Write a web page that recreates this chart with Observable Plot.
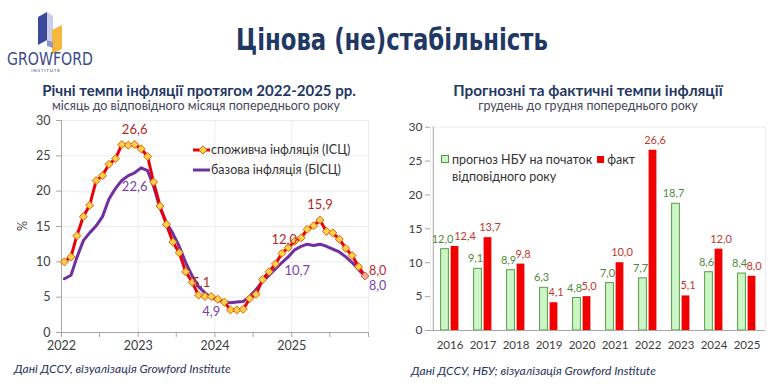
<!DOCTYPE html>
<html><head><meta charset="utf-8">
<script src="https://cdn.jsdelivr.net/npm/d3@7"></script>
<script src="https://cdn.jsdelivr.net/npm/@observablehq/plot@0.6"></script>
<style>
body{margin:0;background:#fff;}
#wrap{position:relative;width:780px;height:386px;overflow:hidden;background:#fff;font-family:Lato,"Open Sans",sans-serif;}
.abs{position:absolute;white-space:nowrap;}
.ctr{text-align:center;}
#leftChart,#rightChart{position:absolute;}
#leftChart{left:0;top:112px;}
#rightChart{left:395px;top:112px;}
</style></head><body><div id="wrap">
<svg class="abs" style="left:0;top:0" width="100" height="80">
  <polygon points="38,17 47,12 47,40 38,45" fill="#3d4a9c"/>
  <polygon points="47,12 53,16 53,42 47,40" fill="#c9cde8"/>
  <polygon points="52,30 62,25 62,49 52,54" fill="#f6b83c"/>
  <polygon points="47,40 53,42 53,48 47,46" fill="#8f97c9"/>
  <text x="50" y="65" text-anchor="middle" font-family="'Liberation Sans Narrow','DejaVu Sans Condensed',sans-serif" font-size="17" fill="#3c4a8c" textLength="86" lengthAdjust="spacingAndGlyphs">GROWFORD</text>
  <text x="46" y="72" text-anchor="middle" font-family="Lato,sans-serif" font-size="4.5" fill="#3c4a8c" letter-spacing="0.8">INSTITUTE</text>
</svg>
<div class="abs ctr" id="title" style="left:0;width:784px;top:22px;font:bold 30px 'Liberation Sans Narrow','DejaVu Sans Condensed',Roboto,sans-serif;color:#1f3864;line-height:36px;transform:scaleX(0.845);transform-origin:392px 0;">Цінова (не)стабільність</div>
<div class="abs ctr" id="lt1" style="left:0;width:398px;top:82px;font:bold 15px Lato,sans-serif;color:#1f3864;line-height:16px;">Річні темпи інфляції протягом 2022-2025 рр.</div>
<div class="abs ctr" id="lt2" style="left:0;width:392px;top:100px;font:12.5px Lato,sans-serif;color:#44475a;line-height:12px;">місяць до відповідного місяця попереднього року</div>
<div class="abs ctr" id="rt1" style="left:388px;width:400px;top:82px;font:bold 15.3px Lato,sans-serif;color:#1f3864;line-height:16px;">Прогнозні та фактичні темпи інфляції</div>
<div class="abs ctr" id="rt2" style="left:388px;width:400px;top:100px;font:12.5px Lato,sans-serif;color:#44475a;line-height:12px;">грудень до грудня попереднього року</div>
<div class="abs" id="pct" style="left:15px;top:219px;width:14px;height:14px;line-height:14px;text-align:center;font:12.5px Lato,sans-serif;color:#404040;transform:rotate(-90deg);">%</div>
<div id="leftChart"></div>
<div id="rightChart"></div>
<div class="abs" id="legL" style="left:192px;top:140px;font:12.5px Lato,sans-serif;color:#333;line-height:20px;">
  <div><svg width="19" height="10" style="vertical-align:-1px"><line x1="1" y1="5" x2="18" y2="5" stroke="#e8000b" stroke-width="3"/><path d="M11,1 L15,5 L11,9 L7,5Z" fill="#ffd24a" stroke="#e2600a" stroke-width="1"/></svg><span id="legL1"></span></div>
  <div><svg width="19" height="10" style="vertical-align:-1px"><line x1="1" y1="5" x2="18" y2="5" stroke="#7030a0" stroke-width="3"/></svg><span id="legL2"></span></div>
</div>
<div class="abs" id="legR" style="left:441px;top:151px;font:12.5px Lato,sans-serif;color:#333;line-height:17px;">
  <div><span style="display:inline-block;width:6px;height:6px;border:1px solid #4f9a3c;background:#ccf5c8;margin-right:3px;vertical-align:1px"></span><span id="legR1"></span> <span style="display:inline-block;width:7px;height:7px;background:#f00000;margin:0 3px 0 2px;vertical-align:1px"></span><span id="legR2"></span></div>
  <div style="padding-left:11px" id="legR3"></div>
</div>
<div class="abs" style="left:14px;top:361px;font:italic 12px Lato,sans-serif;color:#26335a;">Дані ДССУ, візуалізація Growford Institute</div>
<div class="abs" style="left:411px;top:363px;font:italic 12px Lato,sans-serif;color:#26335a;">Дані ДССУ, НБУ; візуалізація Growford Institute</div>
</div>
<script>
// ---- Left chart data: y/y monthly inflation, Jan 2022 .. Dec 2025 ----
const firstYear = 2022;
const cpi = [10.0,10.7,13.7,16.4,18.0,21.5,22.2,23.8,24.6,26.6,26.5,26.6,
             26.0,24.9,21.3,17.9,15.3,12.8,11.3,8.6,7.1,5.3,5.1,5.1,
             4.7,4.3,3.2,3.2,3.3,4.8,5.4,7.5,8.6,9.7,11.2,12.0,
             12.9,13.4,14.6,15.1,15.9,14.3,14.1,13.2,11.9,10.9,9.3,8.0];
const core = [7.6,8.1,10.6,13.0,14.1,15.1,16.4,18.9,20.4,21.5,22.2,22.6,
              23.3,22.9,20.7,17.6,15.6,14.0,12.2,9.9,8.0,6.5,5.6,4.9,
              4.6,4.3,4.2,4.3,4.4,5.1,6.1,7.2,8.1,9.0,9.9,10.7,
              11.7,12.2,12.5,12.3,12.5,12.2,11.8,11.4,10.7,9.9,8.9,8.0];
const leftYearLabels = ["2022","2023","2024","2025"];
const leftYTicks = [0,5,10,15,20,25,30];
const seriesNames = ["споживча інфляція (ІСЦ)", "базова інфляція (БІСЦ)"];
// labelled months (index into series)
const cpiLabelAbove = [11, 40];
const cpiLabelLeft = [23];
const cpiLabelDec24 = [35];
const cpiLabelEnd = [47];
const coreLabelBelow = [11, 23];
const coreLabelDec24 = [35];
const coreLabelEnd = [47];

// ---- Right chart data ----
const years = ["2016","2017","2018","2019","2020","2021","2022","2023","2024","2025"];
const forecast = [12.0,9.1,8.9,6.3,4.8,7.0,7.7,18.7,8.6,8.4];
const actual = [12.4,13.7,9.8,4.1,5.0,10.0,26.6,5.1,12.0,8.0];
const barSeries = ["прогноз НБУ на початок", "факт", "відповідного року"];
const rightYTicks = [0,5,10,15,20,25,30];

document.getElementById("legL1").textContent = seriesNames[0];
document.getElementById("legL2").textContent = seriesNames[1];
document.getElementById("legR1").textContent = barSeries[0];
document.getElementById("legR2").textContent = barSeries[1];
document.getElementById("legR3").textContent = barSeries[2];

const fmt = v => v.toFixed(1).replace(".", ",");
const dates = cpi.map((_, i) => new Date(Date.UTC(firstYear, i, 15)));
const cpiData = cpi.map((v, i) => ({date: dates[i], value: v, i}));
const coreData = core.map((v, i) => ({date: dates[i], value: v, i}));
const pick = (data, idx) => data.filter(d => idx.includes(d.i));
const x0 = new Date(Date.UTC(firstYear, 0, 1));
const x1 = new Date(Date.UTC(firstYear + leftYearLabels.length, 0, 1));
const halfYears = d3.utcMonth.every(6).range(x0, new Date(+x1 + 1));
const yearTicks = d3.utcYear.range(x0, new Date(+x1 + 1));

const CPI_RED = "#e8000b", CORE = "#7030a0", LBL_RED = "#b02a2a", LBL_PUR = "#7b3fa6";
const fontFam = "Lato, 'Open Sans', sans-serif";

const left = Plot.plot({
  width: 400, height: 250,
  marginLeft: 61, marginRight: 32, marginTop: 8, marginBottom: 30,
  style: {fontFamily: fontFam, fontSize: "12px", color: "#404040", background: "transparent", overflow: "visible"},
  x: {type: "utc", domain: [x0, x1]},
  y: {domain: [0, 30]},
  marks: [
    Plot.gridY(leftYTicks, {stroke: "#ececec", strokeOpacity: 1}),
    Plot.gridX(yearTicks, {stroke: "#ececec", strokeOpacity: 1}),
    Plot.axisY(leftYTicks, {tickSize: 5, tickPadding: 6, stroke: "#a6a6a6", fill: "#404040", fontSize: 12.5, label: null}),
    Plot.axisX(halfYears, {tickSize: 5, tickPadding: 4, stroke: "#a6a6a6", fill: "#404040", fontSize: 12.5, label: null,
      tickFormat: d => d.getUTCMonth() === 0 ? (leftYearLabels[d.getUTCFullYear() - firstYear] ?? "") : ""}),
    Plot.ruleX([x0], {stroke: "#a6a6a6"}),
    Plot.ruleY([0], {stroke: "#a6a6a6"}),
    Plot.line(coreData, {x: "date", y: "value", stroke: CORE, strokeWidth: 3}),
    Plot.line(cpiData, {x: "date", y: "value", stroke: CPI_RED, strokeWidth: 3}),
    Plot.dot(cpiData, {x: "date", y: "value", symbol: "diamond2", r: 3.6, fill: d => d.i === cpi.length - 1 ? "#f6a9a9" : "#ffd24a", stroke: "#e2600a", strokeWidth: 1}),
    Plot.text(pick(cpiData, cpiLabelAbove), {x: "date", y: "value", text: d => fmt(d.value), dy: -15, fill: LBL_RED, fontSize: 13}),
    Plot.text(pick(cpiData, cpiLabelLeft), {x: "date", y: "value", text: d => fmt(d.value), dy: -14, dx: -10, fill: LBL_RED, fontSize: 13}),
    Plot.text(pick(cpiData, cpiLabelDec24), {x: "date", y: "value", text: d => fmt(d.value), dy: -8, dx: -4, fill: LBL_RED, fontSize: 13}),
    Plot.text(pick(cpiData, cpiLabelEnd), {x: "date", y: "value", text: d => fmt(d.value), dy: -5, dx: 4, textAnchor: "start", fill: LBL_RED, fontSize: 12.5}),
    Plot.text(pick(coreData, coreLabelBelow), {x: "date", y: "value", text: d => fmt(d.value), dy: 14, fill: LBL_PUR, fontSize: 13}),
    Plot.text(pick(coreData, coreLabelDec24), {x: "date", y: "value", text: d => fmt(d.value), dy: 14, dx: 9, fill: LBL_PUR, fontSize: 13}),
    Plot.text(pick(coreData, coreLabelEnd), {x: "date", y: "value", text: d => fmt(d.value), dy: 10, dx: 4, textAnchor: "start", fill: LBL_PUR, fontSize: 12.5})
  ]
});
document.getElementById("leftChart").append(left);

// red labels that would collide with a wide green neighbour get pushed further right
const crowded = years.map((_, i) => Math.abs(forecast[i] - actual[i]) < 1.5 && actual[i] >= 10 && forecast[i] >= 10);
const idx = years.map((_, i) => i);
const right = Plot.plot({
  width: 385, height: 248,
  marginLeft: 35, marginRight: 15, marginTop: 14.7, marginBottom: 30,
  style: {fontFamily: fontFam, fontSize: "12px", color: "#404040", background: "transparent", overflow: "visible"},
  x: {domain: years, padding: 0},
  y: {domain: [0, 30]},
  marks: [
    Plot.frame({stroke: "#eeeeee"}),
    Plot.axisY(rightYTicks, {tickSize: 5, tickPadding: 3, stroke: "#a6a6a6", fill: "#404040", fontSize: 12, label: null}),
    Plot.axisX({tickSize: 0, tickPadding: 10, fill: "#404040", fontSize: 11.5, label: null}),
    Plot.barY(forecast, {x: years, y: forecast, insetLeft: 7.6, insetRight: 17.6, fill: "#ccf5c8", stroke: "#5a9e44", strokeWidth: 1}),
    Plot.barY(actual, {x: years, y: actual, insetLeft: 17.6, insetRight: 7.6, fill: "#f00000"}),
    Plot.ruleY([0], {stroke: "#a6a6a6"}),
    Plot.ruleX([years[0]], {stroke: "#a6a6a6", dx: -16.75}),
    Plot.text(idx, {x: i => years[i], y: i => forecast[i], text: i => fmt(forecast[i]), dx: -7.5, dy: -10, fill: "#4e8a3c", fontSize: 11}),
    Plot.text(idx.filter(i => !crowded[i]), {x: i => years[i], y: i => actual[i], text: i => fmt(actual[i]), dx: 7, dy: -10, fill: "#c0392b", fontSize: 11}),
    Plot.text(idx.filter(i => crowded[i]), {x: i => years[i], y: i => actual[i], text: i => fmt(actual[i]), dx: 15, dy: -10, fill: "#c0392b", fontSize: 11})
  ]
});
document.getElementById("rightChart").append(right);
</script>
</body></html>
